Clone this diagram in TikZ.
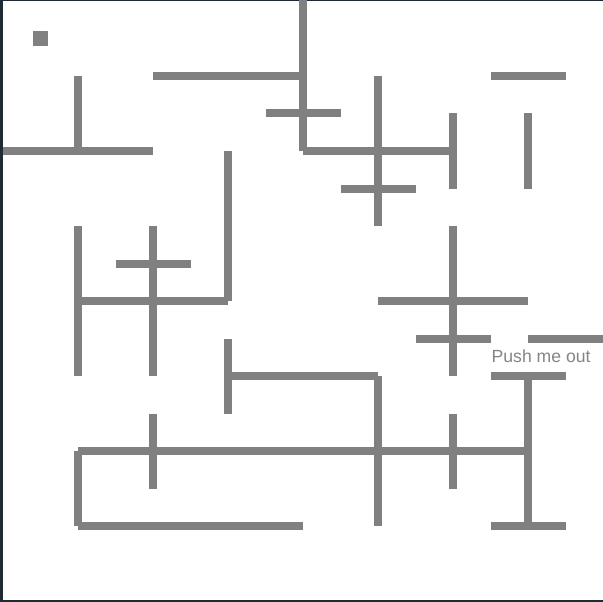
\documentclass[tikz,border=0pt]{standalone}
\usepackage{fontspec}
\setmainfont{Liberation Sans}
\definecolor{wallgray}{HTML}{808080}
\definecolor{textgray}{HTML}{858585}
\definecolor{edgedark}{HTML}{1F2A35}
\newcommand\mzH[3]{\fill[wallfill] (#2,#1-4) rectangle (#3,#1+4);}
\newcommand\mzV[3]{\fill[wallfill] (#1-4,#2) rectangle (#1+4,#3);}
\tikzset{wallfill/.style={fill=wallgray}, edgefill/.style={fill=edgedark}}
\begin{document}
\begin{tikzpicture}[x=1pt,y=-1pt]
\useasboundingbox (0,0) rectangle (603,602);
\fill[white] (0,0) rectangle (603,602);
% frame edges
\fill[edgedark] (0,0) rectangle (2.5,602);
\fill[edgedark] (0,0) rectangle (603,1);
\fill[edgedark] (0,600) rectangle (603,602);
% player square
\fill[wallfill] (33,31) rectangle (48,46);
% walls
\mzH{151}{3}{153}
\mzV{78}{76}{151}
\mzH{76}{153}{303}
\mzV{303}{0}{151}
\mzH{113.5}{265.5}{340.5}
\mzH{151}{303}{453}
\mzV{378}{76}{226}
\mzH{188.5}{340.5}{415.5}
\mzV{453}{113.5}{188.5}
\mzH{76}{490.5}{565.5}
\mzV{528}{113.5}{188.5}
\mzV{228}{151}{301}
\mzV{78}{226}{376}
\mzV{153}{226}{376}
\mzH{263.5}{115.5}{190.5}
\mzH{301}{78}{228}
\mzV{453}{226}{376}
\mzH{301}{378}{528}
\mzH{338.5}{415.5}{490.5}
\mzH{338.5}{528}{603}
\mzH{376}{490.5}{565.5}
\mzV{528}{376}{526}
\mzH{526}{490.5}{565.5}
\mzV{228}{338.5}{413.5}
\mzH{376}{228}{378}
\mzV{378}{376}{526}
\mzH{451}{78}{528}
\mzV{153}{413.5}{488.5}
\mzV{453}{413.5}{488.5}
\mzV{78}{451}{526}
\mzH{526}{78}{303}
% label
\node[anchor=base west, inner sep=0pt, text=textgray, font=\fontsize{17.6}{20}\selectfont] (exitlabel) at (491.5,362) {Push me out};
\end{tikzpicture}
\end{document}
